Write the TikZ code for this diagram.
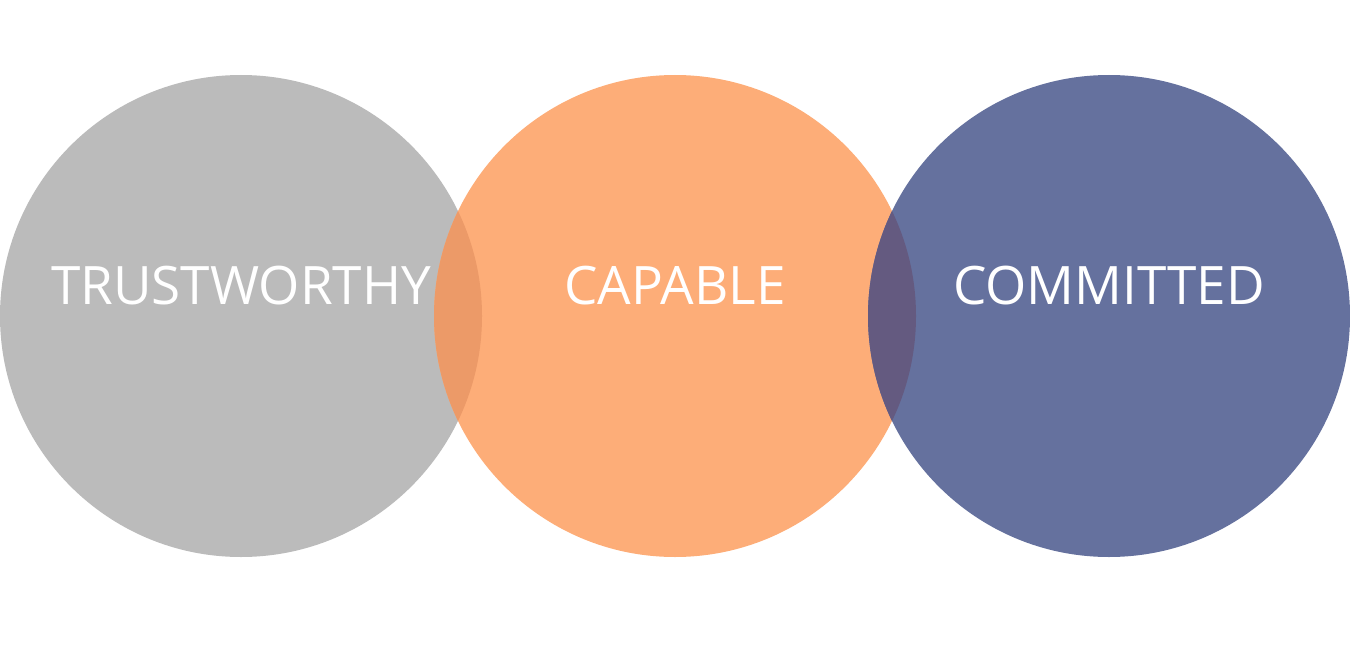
\documentclass[tikz,border=0pt]{standalone}
\usepackage{fontspec}
\setmainfont{Open Sans}
\usepackage{tikz}
\definecolor{colorgray}  {RGB}{187,187,187}
\definecolor{colororange}{RGB}{253,173,120}
\definecolor{colornavy}  {RGB}{101,113,158}
\definecolor{colormixa}  {RGB}{236,154,104}
\definecolor{colormixb}  {RGB}{100,90,128}

\begin{document}
\begin{tikzpicture}[
    x=1pt, y=-1pt,
    font={\fontsize{53}{63}\selectfont},
    ring/.style={circle,minimum size=482pt,inner sep=0pt,text=white},
]
    \useasboundingbox (0,0) rectangle (1350,650);

    % Circles
    \node[ring, fill=colorgray]   (trust)  at (241,316)  {};
    \node[ring, fill=colororange] (capa)   at (675,316)  {};
    \node[ring, fill=colornavy]   (commit) at (1109,316) {};

    % Overlaps
    \begin{scope}
        \clip (241,316) circle (241);
        \fill[colormixa] (675,316) circle (241);
    \end{scope}
    \begin{scope}
        \clip (675,316) circle (241);
        \fill[colormixb] (1109,316) circle (241);
    \end{scope}

    % Labels
    \node[text=white] (trustlabel)  at (241,286)  {TRUSTWORTHY};
    \node[text=white] (capalabel)   at (675,286)  {CAPABLE};
    \node[text=white] (commitlabel) at (1109,286) {COMMITTED};

\end{tikzpicture}
\end{document}
